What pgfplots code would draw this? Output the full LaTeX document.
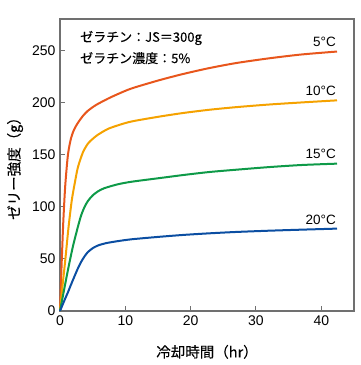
\documentclass[border=0pt]{standalone}
\usepackage{pgfplots}
\pgfplotsset{compat=1.18}
\usepackage{fontspec}
\setmainfont{Liberation Sans}
\newfontfamily\jp[FakeBold=0.2]{Noto Sans CJK JP}
\definecolor{cA}{HTML}{E8561C}
\definecolor{cB}{HTML}{F5A200}
\definecolor{cC}{HTML}{0E9A48}
\definecolor{cD}{HTML}{0B4EA2}
\definecolor{frame}{HTML}{707070}
\begin{document}
\begin{tikzpicture}[x=1pt,y=1pt]
\useasboundingbox (0,0) rectangle (360,365);
\begin{axis}[
  at={(60pt,54pt)}, anchor=south west,
  scale only axis, width=294pt, height=292pt,
  xmin=0, xmax=45, ymin=0, ymax=280,
  xtick={0,10,20,30,40}, ytick={0,50,100,150,200,250},
  tick pos=left, tick align=inside, major tick length=5pt,
  axis line style={draw=frame, line width=1.6pt},
  tick style={draw=frame, line width=1pt},
  /pgf/number format/assume math mode=true,
  tick label style={font=\fontsize{14}{14}\selectfont},
  yticklabel style={xshift=-1pt},
  xticklabel style={yshift=-1pt},
  xlabel={\jp 冷却時間（hr）},
  ylabel={\jp ゼリー強度（g）},
  label style={font=\fontsize{14.5}{14.5}\selectfont},
  xlabel style={at={(axis description cs:0.5,-0.14)}, anchor=center},
  ylabel style={at={(axis description cs:-0.153,0.5)}, anchor=center},
  every axis plot/.append style={line width=2pt, no marks, smooth, tension=0.45},
  clip=false,
]
\addplot[cA] coordinates {(0,0)(0.25,45)(0.5,85)(0.8,120)(1.22,150)(1.7,166)(2.2,174.5)(2.75,180.5)(3.5,187)(4.27,192)(5.5,197.5)(7.3,203.5)(8.85,208)(11,213.5)(15.3,221.5)(19,227.5)(22.9,233)(27,237.8)(32,242.3)(37,246)(42.4,248.8)};
\addplot[cB] coordinates {(0,0)(0.4,25)(0.81,49)(1.3,80)(1.8,106)(2.3,124)(2.75,138)(3.5,152)(4.27,160.5)(5,165)(5.8,169)(7.3,174.5)(8.85,178)(11,181.8)(15.3,186.5)(19,190)(22.9,193)(27,195.5)(32,198)(37,200)(42.4,202)};
\addplot[cC] coordinates {(0,0)(0.4,13)(0.8,26)(1.22,39.5)(1.6,51)(1.98,62)(2.4,72.5)(2.75,81)(3.2,91)(3.7,99)(4.27,105.5)(5,110.8)(5.8,114.7)(6.8,117.8)(8.85,121.5)(11,124)(15.3,127.5)(19,130.5)(22.9,133.3)(27,135.5)(32,138)(37,140)(42.4,141.3)};
\addplot[cD] coordinates {(0,0)(0.4,6)(0.8,12)(1.22,18)(1.7,25.5)(2.2,33)(2.75,41)(3.3,47.8)(3.8,52.8)(4.27,56.5)(5,60.2)(5.8,62.8)(7,65)(8.85,67)(11,68.8)(15.3,71.2)(19,73)(22.9,74.5)(27,75.8)(32,77)(37,78)(42.4,79)};
\node[anchor=south east, inner sep=1pt, font=\fontsize{13.5}{13.5}\selectfont] at (axis cs:42.4,252) {5°C};
\node[anchor=south east, inner sep=1pt, font=\fontsize{13.5}{13.5}\selectfont] at (axis cs:42.4,205) {10°C};
\node[anchor=south east, inner sep=1pt, font=\fontsize{13.5}{13.5}\selectfont] at (axis cs:42.4,144.5) {15°C};
\node[anchor=south east, inner sep=1pt, font=\fontsize{13.5}{13.5}\selectfont] at (axis cs:42.4,82) {20°C};
\node[anchor=west, inner sep=0pt, font=\jp\fontsize{13}{13}\selectfont] at (axis description cs:0.068,0.935) {ゼラチン：JS＝300g};
\node[anchor=west, inner sep=0pt, font=\jp\fontsize{13}{13}\selectfont] at (axis description cs:0.068,0.866) {ゼラチン濃度：5\%};
\end{axis}
\end{tikzpicture}
\end{document}
